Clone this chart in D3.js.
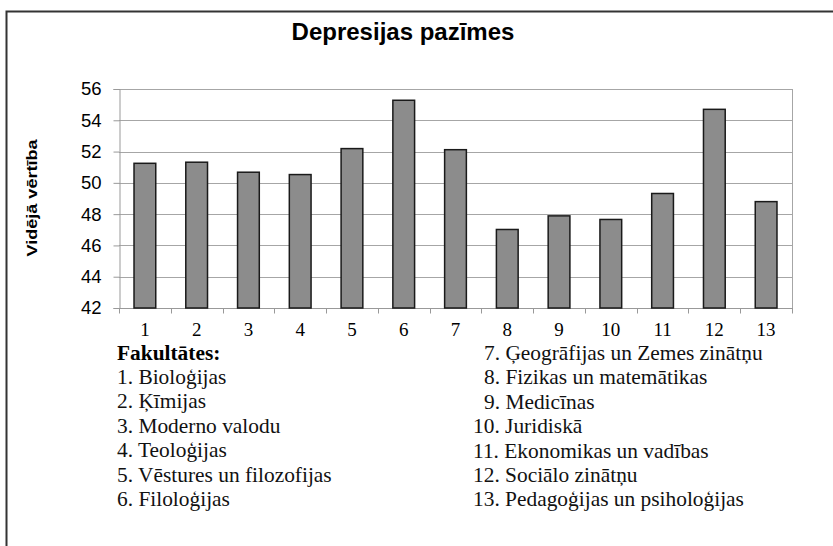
<!DOCTYPE html>
<html><head><meta charset="utf-8">
<script src="https://cdn.jsdelivr.net/npm/d3@7"></script>
<style>body{margin:0;background:#fff}svg{display:block}</style>
</head><body>
<svg id="c" width="833" height="546"></svg>
<script>
const categories = ["1","2","3","4","5","6","7","8","9","10","11","12","13"];
const values = [51.25, 51.32, 50.68, 50.53, 52.19, 55.28, 52.12, 47.02, 47.89, 47.66, 49.32, 54.7, 48.8];
const yTicks = [42,44,46,48,50,52,54,56];
const title = "Depresijas pazīmes";
const yTitle = "Vidējā vērtība";
const legendHeader = "Fakultātes:";
const legendLeft = ["1. Bioloģijas","2. Ķīmijas","3. Moderno valodu","4. Teoloģijas","5. Vēstures un filozofijas","6. Filoloģijas"];
const legendRight = ["7. Ģeogrāfijas un Zemes zinātņu","8. Fizikas un matemātikas","9. Medicīnas","10. Juridiskā","11. Ekonomikas un vadības","12. Sociālo zinātņu","13. Pedagoģijas un psiholoģijas"];

const svg = d3.select("#c");
const L=119, R=792, T=89, B=308;
const x = d3.scaleBand().domain(categories).range([L,R]).paddingInner(0.58).paddingOuter(0.29);
const xb = d3.scaleBand().domain(categories).range([L,R]);
const y = d3.scaleLinear().domain([42,56]).range([B,T]);
const sans = "Liberation Sans, Arial, sans-serif";
const serif = "Liberation Serif, Times New Roman, serif";

// outer frame
svg.append("rect").attr("x",6.5).attr("y",11.5).attr("width",900).attr("height",600)
  .attr("fill","none").attr("stroke","#333").attr("stroke-width",2);

svg.append("text").attr("x",403).attr("y",40).attr("text-anchor","middle")
  .attr("font-family",sans).attr("font-weight","bold")
  .attr("font-size",24).text(title);

// gridlines
svg.append("g").selectAll("line").data(yTicks.slice(1)).join("line")
  .attr("x1",L).attr("x2",R).attr("y1",d=>Math.round(y(d))+0.5).attr("y2",d=>Math.round(y(d))+0.5)
  .attr("stroke","#a6a6a6").attr("stroke-width",1);
svg.append("line").attr("x1",R+0.5).attr("x2",R+0.5).attr("y1",T).attr("y2",B).attr("stroke","#a6a6a6");

// y axis
const ya = svg.append("g").attr("transform",`translate(${L+0.5},0)`)
  .call(d3.axisLeft(y).tickValues(yTicks).tickSize(6).tickPadding(12));
ya.select(".domain").attr("stroke","#999");
ya.selectAll(".tick line").attr("stroke","#999");
ya.selectAll("text").attr("font-family",sans).attr("font-size",18.5).attr("fill","#000");

// x axis
const xa = svg.append("g").attr("transform",`translate(0,${B+0.5})`);
xa.append("line").attr("x1",L).attr("x2",R+1).attr("stroke","#999");
xa.selectAll("line.t").data(categories).join("line").attr("class","t")
  .attr("x1",d=>Math.round(xb(d))+0.5).attr("x2",d=>Math.round(xb(d))+0.5).attr("y1",0).attr("y2",5).attr("stroke","#999");
xa.append("line").attr("x1",R+0.5).attr("x2",R+0.5).attr("y1",0).attr("y2",5).attr("stroke","#999");
xa.selectAll("text").data(categories).join("text")
  .attr("x",d=>xb(d)+xb.bandwidth()/2).attr("y",27).attr("text-anchor","middle")
  .attr("font-family",serif).attr("font-size",19).text(d=>d);

// bars
svg.append("g").selectAll("rect").data(values).join("rect")
  .attr("x",(d,i)=>x(categories[i])).attr("width",x.bandwidth())
  .attr("y",d=>y(d)).attr("height",d=>B-y(d))
  .attr("fill","#8c8c8c").attr("stroke","#1a1a1a").attr("stroke-width",1.5);

// y title
svg.append("text").attr("transform","translate(37,198) rotate(-90)").attr("text-anchor","middle")
  .attr("font-family",sans).attr("font-weight","bold").attr("font-size",14)
  .attr("textLength",117).attr("lengthAdjust","spacingAndGlyphs").text(yTitle);

// legend
svg.append("text").attr("x",117).attr("y",360).attr("font-family",serif).attr("font-weight","bold").attr("font-size",21.4).text(legendHeader);
svg.append("g").selectAll("text").data(legendLeft).join("text")
  .attr("x",117).attr("y",(d,i)=>384+i*24.4).attr("font-family",serif).attr("font-size",21.4).attr("fill","#111").text(d=>d);
svg.append("g").selectAll("text").data(legendRight).join("text")
  .attr("x",(d,i)=> i<3 ? 484 : 473).attr("y",(d,i)=>360+i*24.4).attr("font-family",serif).attr("font-size",21.4).attr("fill","#111").text(d=>d);
</script>
</body></html>
